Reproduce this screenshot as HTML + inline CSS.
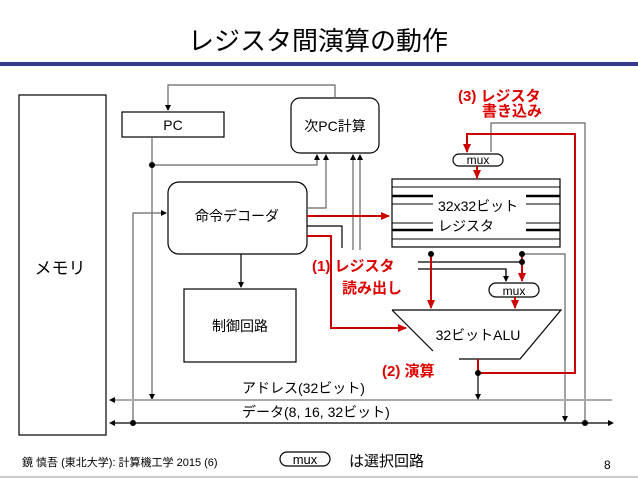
<!DOCTYPE html>
<html><head><meta charset="utf-8"><style>
body{margin:0;background:#fff}
svg{display:block}
text{font-family:"Liberation Sans","Noto Sans CJK JP",sans-serif}
</style></head><body>
<svg width="638" height="479" viewBox="0 0 638 479" xmlns="http://www.w3.org/2000/svg">
<defs>
<marker id="ak" markerWidth="6" markerHeight="6" refX="5" refY="3" orient="auto" markerUnits="userSpaceOnUse"><path d="M0,0 L6,3 L0,6z" fill="#000"/></marker>
<marker id="ar" markerWidth="9" markerHeight="8" refX="8" refY="4" orient="auto" markerUnits="userSpaceOnUse"><path d="M0,0 L9,4 L0,8z" fill="#c00"/></marker>
</defs>
<text x="318" y="50" font-size="26" text-anchor="middle">レジスタ間演算の動作</text>
<rect x="0" y="62" width="638" height="4" fill="#353a8c"/>

<g fill="none" stroke="#000" stroke-width="1.2">
<rect x="19" y="95" width="87" height="340"/>
<rect x="122" y="112" width="102" height="25"/>
<rect x="291" y="98" width="88" height="55" rx="9"/>
<rect x="168" y="182" width="139" height="72" rx="11"/>
<rect x="184" y="289" width="112" height="73"/>
<rect x="392" y="179" width="168" height="68"/>
<rect x="453" y="154" width="50" height="12" rx="6"/>
<rect x="489" y="283" width="50" height="14" rx="7"/>
<rect x="280" y="452" width="50" height="14" rx="7"/>
<path d="M392,310 L561,310 L520,359 L459,359 M392,310 L433,351"/>
</g>
<g stroke="#000" fill="none">
<path d="M392,187H560 M392,239H560 M392,204H433 M526,204H560 M392,223H433 M526,223H560"/>
<path d="M392,196H433 M526,196H560 M392,230H433 M526,230H560" stroke-width="2.5"/>
</g>
<text x="60" y="274" font-size="17" text-anchor="middle">メモリ</text>
<text x="173" y="130" font-size="14" text-anchor="middle">PC</text>
<text x="335" y="131" font-size="14" text-anchor="middle">次PC計算</text>
<text x="237" y="221" font-size="14" text-anchor="middle">命令デコーダ</text>
<text x="240" y="331" font-size="14" text-anchor="middle">制御回路</text>
<text x="438" y="211" font-size="14">32x32ビット</text>
<text x="438" y="231" font-size="14">レジスタ</text>
<text x="478" y="164" font-size="12" text-anchor="middle">mux</text>
<text x="514" y="295" font-size="12" text-anchor="middle">mux</text>
<text x="305" y="464" font-size="13" text-anchor="middle">mux</text>
<text x="478" y="340" font-size="14" text-anchor="middle">32ビットALU</text>
<text x="242" y="393" font-size="14">アドレス(32ビット)</text>
<text x="242" y="417" font-size="14">データ(8, 16, 32ビット)</text>

<g fill="none" stroke="#666" stroke-width="1.2">
<path d="M335,98V85H168V110" marker-end="url(#ak)"/>
<path d="M152,137V399" marker-end="url(#ak)"/>
<path d="M152,165H317V155" marker-end="url(#ak)"/>
<path d="M307,208H326V155" marker-end="url(#ak)"/>
<path d="M353,250V155" marker-end="url(#ak)"/>
<path d="M360,250V155" marker-end="url(#ak)"/>
<path d="M133,423V213H166" marker-end="url(#ak)"/>
<path d="M491,152V123H585V423"/>
<path d="M523,254H565V421" marker-end="url(#ak)"/>
<path d="M111,400H612" stroke="#aaa" stroke-width="2"/>
</g>
<g fill="none" stroke="#000" stroke-width="1.2">
<path d="M241,254V287" marker-end="url(#ak)"/>
<path d="M307,226H342V248"/>
<path d="M418,262H522 M418,269H506V281" />
<path d="M506,269V281" marker-end="url(#ak)"/>
<path d="M478,359V399" marker-end="url(#ak)"/>
<path d="M112,423H612" />
</g>
<path d="M109,400l6,-3v6z M109,423l6,-3v6z M614,423l-6,-3v6z" fill="#000"/>
<g fill="none" stroke="#c00" stroke-width="2">
<path d="M307,216H389" marker-end="url(#ar)"/>
<path d="M307,236H331V328H406" marker-end="url(#ar)"/>
<path d="M431,254V308" marker-end="url(#ar)"/>
<path d="M522,254V281" marker-end="url(#ar)"/>
<path d="M515,297V308" marker-end="url(#ar)"/>
<path d="M477,166V178" marker-end="url(#ar)"/>
<path d="M478,359V373H575V134H467V152" marker-end="url(#ar)"/>
</g>
<g fill="#000">
<circle cx="152" cy="165" r="3"/><circle cx="133" cy="423" r="3"/><circle cx="585" cy="423" r="3"/>
<circle cx="431" cy="254" r="3"/><circle cx="522" cy="254" r="3"/><circle cx="522" cy="262" r="3"/>
<circle cx="478" cy="373" r="3"/>
</g>
<g fill="#d00" font-weight="bold" font-size="15">
<text x="458" y="101">(3) レジスタ</text>
<text x="482" y="116">書き込み</text>
<text x="312" y="271">(1) レジスタ</text>
<text x="342" y="293">読み出し</text>
<text x="382" y="376">(2) 演算</text>
</g>
<text x="22" y="466" font-size="11">鏡 慎吾 (東北大学): 計算機工学 2015 (6)</text>
<text x="349" y="466" font-size="15">は選択回路</text>
<text x="604" y="469" font-size="12" font-family="Liberation Serif">8</text>
<rect x="0" y="476" width="638" height="2" fill="#ccc"/>
</svg>
</body></html>
